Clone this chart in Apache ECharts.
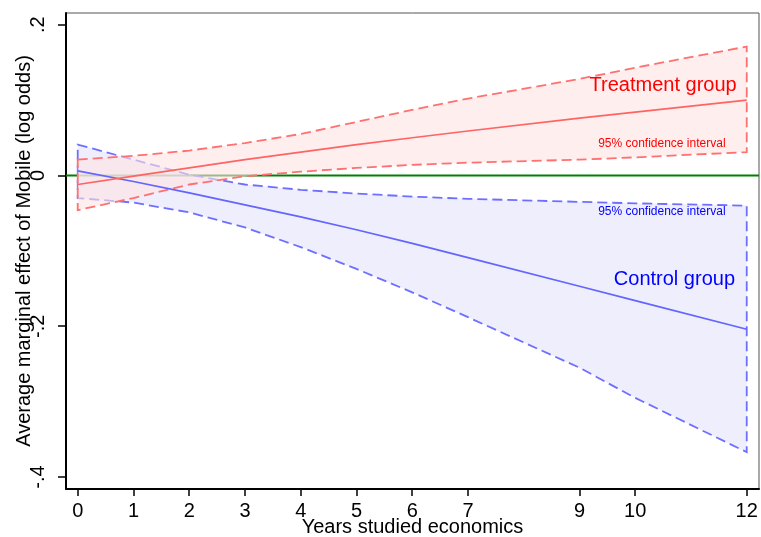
<!DOCTYPE html>
<html>
<head>
<meta charset="utf-8">
<script src="https://cdn.jsdelivr.net/npm/echarts@6/dist/echarts.min.js"></script>
<style>html,body{margin:0;padding:0;background:#fff;}#chart{width:761px;height:537px;}</style>
</head>
<body>
<div id="chart"></div>
<script>
// ---- data ----
const years = [0, 1, 2, 3, 4, 5, 6, 7, 9, 10, 12];
const treatEst   = [-0.012, -0.001, 0.010, 0.021, 0.031, 0.041, 0.050, 0.059, 0.076, 0.084, 0.100];
const treatUpper = [0.021, 0.026, 0.033, 0.043, 0.055, 0.071, 0.087, 0.102, 0.128, 0.143, 0.171];
const treatLower = [-0.046, -0.030, -0.012, -0.001, 0.005, 0.010, 0.014, 0.017, 0.021, 0.024, 0.031];
const ctrlEst    = [0.006, -0.008, -0.023, -0.039, -0.055, -0.072, -0.090, -0.109, -0.147, -0.166, -0.204];
const ctrlUpper  = [0.041, 0.021, 0.001, -0.012, -0.019, -0.024, -0.028, -0.031, -0.035, -0.037, -0.040];
const ctrlLower  = [-0.030, -0.036, -0.049, -0.069, -0.095, -0.124, -0.155, -0.188, -0.255, -0.295, -0.367];
const xTicks = [0, 1, 2, 3, 4, 5, 6, 7, 9, 10, 12];
const yTicks = [-0.4, -0.2, 0, 0.2];
const yTickLabels = ['-.4', '-.2', '0', '.2'];
const xRange = [-0.21, 12.22];
const yRange = [-0.4159, 0.2155];
const annotations = [
  { text: 'Treatment group', x: 11.82, y: 0.1195, color: '#ff0000', size: 20 },
  { text: '95% confidence interval', x: 11.62, y: 0.0417, color: '#ff0000', size: 12 },
  { text: '95% confidence interval', x: 11.62, y: -0.0486, color: '#0000ff', size: 12 },
  { text: 'Control group', x: 11.79, y: -0.1377, color: '#0000ff', size: 20 }
];

const FONT = '"Liberation Sans", Arial, Helvetica, sans-serif';
const chart = echarts.init(document.getElementById('chart'), null, { renderer: 'canvas' });

function bandSeries(upper, lower, fill, stroke, z) {
  return {
    type: 'custom',
    z: z,
    silent: true,
    data: [[years[0], lower[0]]],
    encode: { x: 0, y: 1 },
    renderItem: function (params, api) {
      const pts = [];
      for (let i = 0; i < years.length; i++) pts.push(api.coord([years[i], upper[i]]));
      for (let i = years.length - 1; i >= 0; i--) pts.push(api.coord([years[i], lower[i]]));
      return {
        type: 'polygon',
        shape: { points: pts },
        style: { fill: fill, stroke: stroke, lineWidth: 1.8, lineDash: [10, 5] }
      };
    }
  };
}

function lineSeries(vals, color, z) {
  return {
    type: 'line', z: z, silent: true, symbol: 'none',
    data: years.map((x, i) => [x, vals[i]]),
    lineStyle: { color: color, width: 1.7 }
  };
}

const option = {
  animation: false,
  backgroundColor: '#fff',
  grid: { left: 66, top: 13, right: 2, bottom: 48, show: true, borderColor: '#555', borderWidth: 1, backgroundColor: 'transparent', containLabel: false, outerBoundsMode: 'none' },
  xAxis: {
    type: 'value', min: xRange[0], max: xRange[1],
    name: 'Years studied economics', nameLocation: 'middle', nameGap: 28, nameMoveOverlap: false,
    nameTextStyle: { fontFamily: FONT, fontSize: 20, color: '#000' },
    axisLine: { show: true, onZero: false, lineStyle: { color: '#000', width: 2 } },
    axisTick: { show: true, length: 7, customValues: xTicks, lineStyle: { color: '#000', width: 1.5 } },
    axisLabel: { customValues: xTicks, fontFamily: FONT, fontSize: 20, color: '#000', margin: 12 },
    splitLine: { show: false }
  },
  yAxis: {
    type: 'value', min: yRange[0], max: yRange[1],
    name: 'Average marginal effect of Mobile (log odds)', nameLocation: 'middle', nameGap: 32, nameRotate: 90, nameMoveOverlap: false,
    nameTextStyle: { fontFamily: FONT, fontSize: 20, color: '#000' },
    axisLine: { show: true, onZero: false, lineStyle: { color: '#000', width: 2 } },
    axisTick: { show: true, length: 8, customValues: yTicks, lineStyle: { color: '#000', width: 1.5 } },
    axisLabel: {
      customValues: yTicks, rotate: 90, fontFamily: FONT, fontSize: 20, color: '#000', margin: 18,
      formatter: function (v) {
        for (let i = 0; i < yTicks.length; i++) if (Math.abs(yTicks[i] - v) < 1e-9) return yTickLabels[i];
        return '';
      }
    },
    splitLine: { show: false }
  },
  series: [
    {
      type: 'line', z: 1, silent: true, symbol: 'none',
      data: [[xRange[0], 0], [xRange[1], 0]],
      lineStyle: { color: '#008000', width: 2 }
    },
    bandSeries(ctrlUpper, ctrlLower, 'rgba(226,226,250,0.6)', '#6f6fff', 2),
    bandSeries(treatUpper, treatLower, 'rgba(255,226,226,0.6)', '#ff7070', 3),
    lineSeries(ctrlEst, '#6464ff', 4),
    lineSeries(treatEst, '#ff6464', 5),
    {
      type: 'custom', z: 6, silent: true,
      data: annotations.map((a, i) => [a.x, a.y, i]),
      encode: { x: 0, y: 1 },
      renderItem: function (params, api) {
        const a = annotations[api.value(2)];
        const p = api.coord([a.x, a.y]);
        return {
          type: 'text', x: p[0], y: p[1],
          style: { text: a.text, fill: a.color, font: a.size + 'px ' + FONT, align: 'right', verticalAlign: 'middle' }
        };
      }
    }
  ]
};
chart.setOption(option);
</script>
</body>
</html>
